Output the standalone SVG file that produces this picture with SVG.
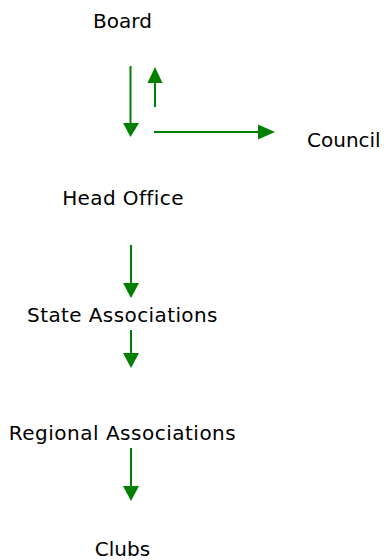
<svg xmlns="http://www.w3.org/2000/svg" width="387" height="560" viewBox="0 0 387 560">
<defs>
<style>
text{font-family:"DejaVu Sans","Liberation Sans",sans-serif;font-size:20px;fill:#000;}
.c text{text-anchor:middle;}
.ln{stroke:#008000;stroke-width:2;fill:none;}
.hd{fill:#008000;}
</style>
</defs>
<rect width="387" height="560" fill="#fff"/>
<g id="connectors">
<line class="ln" x1="130.5" y1="66" x2="130.5" y2="124"/>
<polygon class="hd" points="123,123 139,123 130.5,137"/>
<line class="ln" x1="155" y1="107" x2="155" y2="82"/>
<polygon class="hd" points="147.5,83 162.5,83 155,67"/>
<line class="ln" x1="154" y1="132" x2="259" y2="132"/>
<polygon class="hd" points="258,124.5 258,139.5 275,132"/>
<line class="ln" x1="131" y1="245" x2="131" y2="284"/>
<polygon class="hd" points="123,283 139,283 131,298"/>
<line class="ln" x1="131" y1="330" x2="131" y2="354"/>
<polygon class="hd" points="123,353 139,353 131,368"/>
<line class="ln" x1="131" y1="448" x2="131" y2="487"/>
<polygon class="hd" points="123,486 139,486 131,501"/>
</g>
<g id="board" class="c"><text x="122.5" y="28">Board</text></g>
<g id="council"><text x="307" y="147">Council</text></g>
<g id="head-office" class="c"><text x="123" y="205" letter-spacing="0.4">Head Office</text></g>
<g id="state" class="c"><text x="122.5" y="322" letter-spacing="0.4">State Associations</text></g>
<g id="regional" class="c"><text x="122.5" y="440" letter-spacing="0.5">Regional Associations</text></g>
<g id="clubs" class="c"><text x="122.5" y="556">Clubs</text></g>
</svg>
